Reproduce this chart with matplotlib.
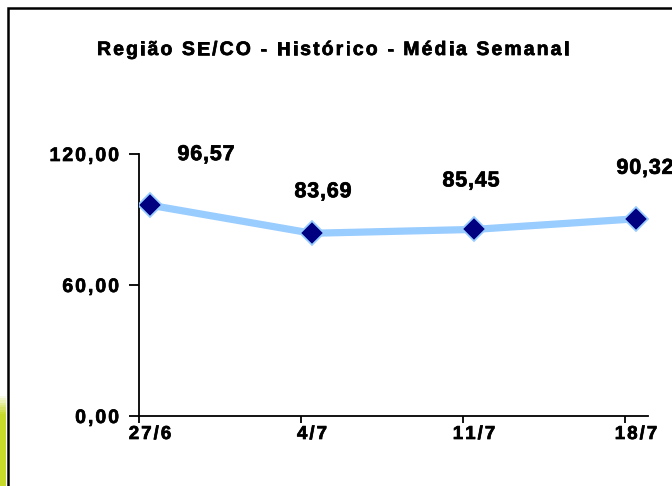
import matplotlib.pyplot as plt
import numpy as np
from matplotlib.patches import Rectangle
from matplotlib.font_manager import FontProperties
from matplotlib.textpath import text_to_path
from matplotlib.transforms import IdentityTransform
import matplotlib.patheffects as pe

plt.rcParams['font.family'] = ['Liberation Sans', 'DejaVu Sans']

# dados semanais
semanas = ["27/6", "4/7", "11/7", "18/7"]
media = [96.57, 83.69, 85.45, 90.32]
yticks = [0, 60, 120]
titulo = "Região SE/CO - Histórico - Média Semanal"

# deslocamento dos rótulos em pixels (dx, altura da linha de base acima do ponto)
label_dx = [56, 11, -3, 9]
label_dy = [45, 36, 43, 45]

W, H, DPI = 672, 486, 100
fig = plt.figure(figsize=(W / DPI, H / DPI), dpi=DPI)
grosso = [pe.withStroke(linewidth=0.5, foreground="black")]


def spaced(txt, x, y, size, track, ha="center"):
    # texto com espaçamento entre letras, x/y em pixels (origem embaixo à esquerda, y = linha de base)
    prop = FontProperties(family="Liberation Sans", weight="bold", size=size)
    ws = [text_to_path.get_text_width_height_descent(c, prop, ismath=False)[0] * DPI / 72
          for c in txt]
    total = sum(ws) + track * (len(txt) - 1)
    x0 = {"center": x - total / 2, "right": x - total, "left": x}[ha]
    for c, w in zip(txt, ws):
        fig.text(x0, y, c, transform=IdentityTransform(), fontproperties=prop,
                 ha="left", va="baseline", path_effects=grosso)
        x0 += w + track


# moldura
fig.patches.append(Rectangle((8 / W, -0.05), 1.0, 1 - 8 / H + 0.05,
                             transform=fig.transFigure, fill=False,
                             edgecolor="black", linewidth=1.8))

# faixa verde no canto
n = 40
for k in range(n):
    t = k / (n - 1)
    a = min(1.0, t / 0.22)
    cor = (1 - a * 0.22, 1 - a * 0.15, 1 - a * 0.84)
    y0 = (92 - (k + 1) * 92 / n) / H
    fig.patches.append(Rectangle((0, y0), 6 / W, 92 / n / H + 0.001,
                                 transform=fig.transFigure, facecolor=cor,
                                 edgecolor="none"))

ax = fig.add_axes([139 / W, 1 - 416 / H, (648 - 139) / W, (416 - 154) / H])
x = np.arange(len(semanas))
ax.plot(x, media, color="#99CCFF", linewidth=5.2, zorder=2)
ax.plot(x, media, linestyle="none", marker="D", markersize=12,
        markerfacecolor="#000080", markeredgecolor="#99CCFF",
        markeredgewidth=1.3, zorder=3)

off = 11 / 162
ax.set_xlim(-off, 3 + (648 - 636) / 162)
ax.set_ylim(0, 120)
ax.set_xticks(x - off)
ax.set_xticklabels([])
ax.tick_params(axis="x", length=5, width=1.3)
ax.set_yticks(yticks)
ax.set_yticklabels([])
ax.tick_params(axis="y", length=7, width=1.3)

for s in ["top", "right"]:
    ax.spines[s].set_visible(False)
for s in ["left", "bottom"]:
    ax.spines[s].set_linewidth(1.3)
ax.patch.set_alpha(0)

# rótulos dos eixos
for i, s in enumerate(semanas):
    px, py = ax.transData.transform((x[i], 0))
    spaced(s, px, py - 23, 13.5, 2.0, ha="center")
for v in yticks:
    px, py = ax.transData.transform((ax.get_xlim()[0], v))
    spaced(f"{v:.2f}".replace(".", ","), px - 20, py - 7, 14, 2.0, ha="right")

# rótulos de dados
for i, v in enumerate(media):
    px, py = ax.transData.transform((x[i], v))
    spaced(f"{v:.2f}".replace(".", ","), px + label_dx[i], py + label_dy[i],
           15.5, 0.8, ha="center")

spaced(titulo, 333, H - 55, 14, 2.1, ha="center")

fig.savefig("out.png", dpi=DPI)
